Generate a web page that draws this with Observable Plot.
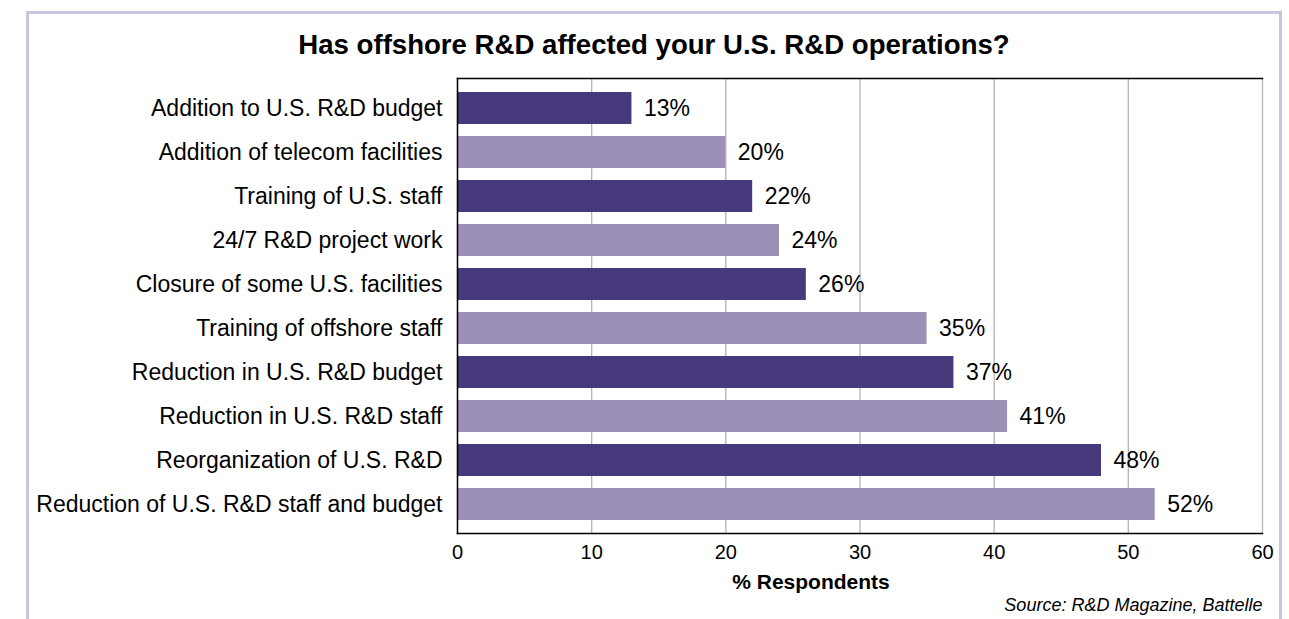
<!DOCTYPE html>
<html>
<head>
<meta charset="utf-8">
<script src="https://cdn.jsdelivr.net/npm/d3@7"></script>
<script src="https://cdn.jsdelivr.net/npm/@observablehq/plot@0.6"></script>
<style>
  html, body { margin: 0; padding: 0; background: #fff; width: 1289px; height: 619px; overflow: hidden; position: relative; }
  #box { position: absolute; left: 26px; top: 11px; width: 1250px; height: 700px; border: 3px solid #cbc4de; }
  #title { position: absolute; left: 29px; width: 1250px; top: 31px; line-height: 28px; text-align: center;
    font-family: "Liberation Sans", Arial, sans-serif; font-weight: bold; font-size: 27.6px; color: #000; }
  #chart { position: absolute; left: 0; top: 65px; }
</style>
</head>
<body>
<div id="box"></div>
<div id="title">Has offshore R&amp;D affected your U.S. R&amp;D operations?</div>
<div id="chart"></div>
<script>
const categories = [
  "Addition to U.S. R&D budget",
  "Addition of telecom facilities",
  "Training of U.S. staff",
  "24/7 R&D project work",
  "Closure of some U.S. facilities",
  "Training of offshore staff",
  "Reduction in U.S. R&D budget",
  "Reduction in U.S. R&D staff",
  "Reorganization of U.S. R&D",
  "Reduction of U.S. R&D staff and budget"
];
const values = [13, 20, 22, 24, 26, 35, 37, 41, 48, 52];
const xTicks = [0, 10, 20, 30, 40, 50, 60];
const xLabel = "% Respondents";
const source = "Source: R&D Magazine, Battelle";

const data = categories.map((c, i) => ({category: c, value: values[i], shade: i % 2 === 0 ? "dark" : "light"}));

const font = "'Liberation Sans', Arial, sans-serif";
const chart = Plot.plot({
  width: 1289,
  height: 554,
  marginLeft: 457,
  marginRight: 27,
  marginTop: 13,
  marginBottom: 86,
  style: {fontFamily: font, color: "#000", background: "transparent", overflow: "visible"},
  x: {domain: [0, 60], ticks: xTicks, label: null},
  y: {domain: categories, paddingInner: 0.28, paddingOuter: 0.25, label: null},
  color: {domain: ["dark", "light"], range: ["#48397d", "#9c90b6"]},
  marks: [
    Plot.gridX(xTicks, {stroke: "#b5b5b5", strokeOpacity: 1, strokeWidth: 1.3}),
    Plot.barX(data, {x: "value", y: "category", fill: "shade"}),
    Plot.text(data, {x: "value", y: "category", text: d => d.value + "%", dx: 12, textAnchor: "start", fontSize: 23, fill: "#000"}),
    Plot.frame({anchor: "top", stroke: "#000", strokeWidth: 1.5}),
    Plot.frame({anchor: "bottom", stroke: "#000", strokeWidth: 1.5}),
    Plot.frame({anchor: "left", stroke: "#000", strokeWidth: 1.5}),
    Plot.axisX({ticks: xTicks, tickSize: 0, tickPadding: 11, fontSize: 20, label: null}),
    Plot.axisY({tickSize: 0, tickPadding: 15, fontSize: 23, label: null}),
    Plot.text([xLabel], {frameAnchor: "bottom", dy: 55, dx: -49, fontWeight: "bold", fontSize: 21, fill: "#000"}),
    Plot.text([source], {frameAnchor: "bottom-right", dy: 77, fontStyle: "italic", fontSize: 18, textAnchor: "end", fill: "#000"})
  ]
});
document.getElementById("chart").appendChild(chart);
</script>
</body>
</html>
